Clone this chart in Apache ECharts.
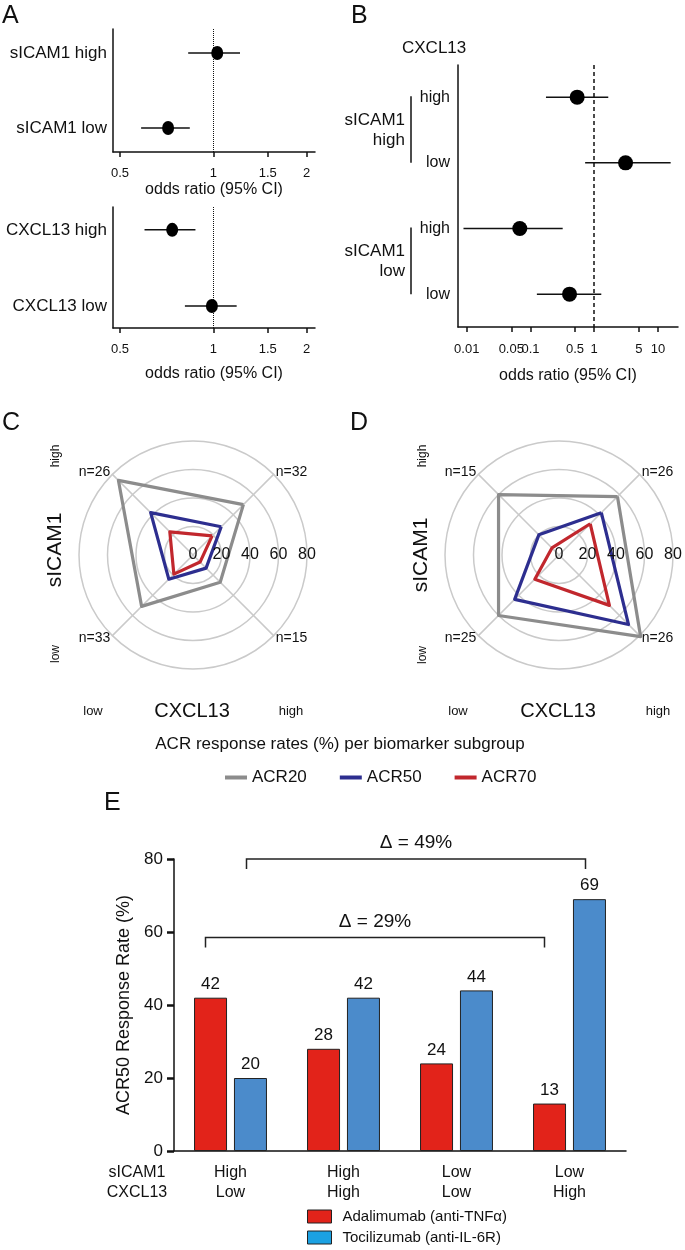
<!DOCTYPE html>
<html>
<head>
<meta charset="utf-8">
<title>ACR response by sICAM1 / CXCL13 subgroup</title>
<script src="https://cdn.jsdelivr.net/npm/echarts@6/dist/echarts.min.js"></script>
<style>
  html, body { margin: 0; padding: 0; background: #fff; }
  #main { width: 685px; height: 1250px; }
</style>
</head>
<body>
<div id="main"></div>
<script>
// panel A: odds ratios per single biomarker
const aTopRows = ['sICAM1 high', 'sICAM1 low']
const aTopOR = [1.03, 0.715]
const aTopLo = [0.83, 0.585]
const aTopHi = [1.22, 0.84]
const aBotRows = ['CXCL13 high', 'CXCL13 low']
const aBotOR = [0.737, 0.99]
const aBotLo = [0.60, 0.81]
const aBotHi = [0.876, 1.19]
const aTicks = [0.5, 1, 1.5, 2]

// panel B: odds ratios per combined subgroup
const bRows = ['high', 'low', 'high', 'low']
const bGroups = ['sICAM1\nhigh', 'sICAM1\nlow']
const bOR = [0.54, 3.1, 0.068, 0.41]
const bLo = [0.175, 0.72, 0.0089, 0.126]
const bHi = [1.66, 15.8, 0.32, 1.29]
const bTicks = [0.01, 0.05, 0.1, 0.5, 1, 5, 10]

// panels C / D: radar order is high/high, high/low, low/low, low/high
const radarRings = [0, 20, 40, 60, 80]
const acrNames = ['ACR20', 'ACR50', 'ACR70']
const cN = [32, 26, 33, 15]
const cAcr20 = [50, 74, 51, 27]
const cAcr50 = [28, 42, 24, 13]
const cAcr70 = [19, 23, 19, 7]
const dN = [26, 15, 25, 26]
const dAcr20 = [58, 60, 60, 81]
const dAcr50 = [42, 20, 44, 69]
const dAcr70 = [31, 7, 24, 50]

// panel E: ACR50 per subgroup
const sicamLevel = ['High', 'High', 'Low', 'Low']
const cxclLevel = ['Low', 'High', 'Low', 'High']
const drugNames = ['Adalimumab (anti-TNFα)', 'Tocilizumab (anti-IL-6R)']
const adalimumab = [42, 28, 24, 13]
const tocilizumab = [20, 42, 44, 69]
const yTicksE = [0, 20, 40, 60, 80]

const FONT = 'Liberation Sans, Arial, Helvetica, sans-serif'
const INK = '#111'
const acrColors = ['#8c8c8c', '#2d2e8f', '#c1272d']
const drugColors = ['#e2231a', '#4b8bcb']
const drugLegendColors = ['#e2231a', '#1ba1e2']

const chart = echarts.init(document.getElementById('main'))

const fmtNum = v => String(parseFloat(Number(v).toPrecision(3)))

function orAxis (gridIndex, min, max, ticks, nameGap, margin) {
  return {
    gridIndex: gridIndex,
    type: 'log',
    logBase: 10,
    min: min,
    max: max,
    name: 'odds ratio (95% CI)',
    nameLocation: 'middle',
    nameGap: nameGap,
    nameTextStyle: { fontSize: 16, color: INK, fontFamily: FONT },
    axisLine: { onZero: false, lineStyle: { color: INK, width: 1.5 } },
    axisTick: { show: true, length: 5, lineStyle: { color: INK, width: 1.5 }, customValues: ticks },
    axisLabel: { fontSize: 13, color: INK, fontFamily: FONT, margin: margin, customValues: ticks, formatter: fmtNum },
    minorTick: { show: false },
    splitLine: { show: false }
  }
}

function rowAxis (gridIndex, rows, min, max, fontSize, margin) {
  return {
    gridIndex: gridIndex,
    type: 'value',
    inverse: true,
    min: min,
    max: max,
    axisLine: { show: true, onZero: false, lineStyle: { color: INK, width: 1.5 } },
    axisTick: { show: false },
    splitLine: { show: false },
    axisLabel: {
      fontSize: fontSize,
      color: INK,
      fontFamily: FONT,
      margin: margin,
      customValues: rows.map((r, i) => i),
      formatter: v => rows[Math.round(v)] || ''
    }
  }
}

function forestSeries (axisIndex, rows, or, lo, hi, dotSize, refLine) {
  return [
    {
      type: 'custom',
      xAxisIndex: axisIndex,
      yAxisIndex: axisIndex,
      data: rows.map((r, i) => [i, lo[i], hi[i]]),
      renderItem: function (params, api) {
        const a = api.coord([api.value(1), api.value(0)])
        const b = api.coord([api.value(2), api.value(0)])
        return {
          type: 'line',
          shape: { x1: a[0], y1: a[1], x2: b[0], y2: b[1] },
          style: { stroke: INK, lineWidth: 1.5 }
        }
      },
      silent: true
    },
    {
      type: 'scatter',
      xAxisIndex: axisIndex,
      yAxisIndex: axisIndex,
      data: rows.map((r, i) => [or[i], i]),
      symbol: 'circle',
      symbolSize: dotSize,
      itemStyle: { color: '#000', opacity: 1 },
      silent: true,
      z: 5,
      markLine: {
        silent: true,
        symbol: 'none',
        label: { show: false },
        lineStyle: refLine,
        data: [{ xAxis: 1 }]
      }
    }
  ]
}

function radarBox (center, nums) {
  return {
    center: center,
    radius: 114,
    startAngle: 45,
    shape: 'circle',
    splitNumber: radarRings.length - 1,
    indicator: nums.map(n => ({ name: 'n=' + n, min: radarRings[0], max: radarRings[radarRings.length - 1] })),
    nameGap: 3,
    axisName: { color: INK, fontSize: 14, fontFamily: FONT },
    splitLine: { lineStyle: { color: '#cacaca', width: 1.5 } },
    splitArea: { show: false },
    axisLine: { lineStyle: { color: '#cacaca', width: 1.5 } },
    axisTick: { show: false },
    axisLabel: { show: false }
  }
}

function radarSeries (radarIndex, sets) {
  return {
    type: 'radar',
    radarIndex: radarIndex,
    symbol: 'none',
    silent: true,
    z: 3,
    data: sets.map((vals, k) => ({
      name: acrNames[k],
      value: vals,
      itemStyle: { color: acrColors[k] },
      lineStyle: { color: acrColors[k], width: 3.2 }
    }))
  }
}

function ringAxis (polarIndex) {
  return {
    polarIndex: polarIndex,
    type: 'value',
    min: radarRings[0],
    max: radarRings[radarRings.length - 1],
    interval: 20,
    z: 10,
    axisLine: { show: false },
    axisTick: { show: false },
    splitLine: { show: false },
    axisLabel: { fontSize: 16, color: INK, fontFamily: FONT, margin: -8 }
  }
}

function txt (x, y, s, size, align, rotate) {
  return {
    type: 'text',
    x: x,
    y: y,
    rotation: rotate ? Math.PI / 2 : 0,
    style: {
      text: s,
      fontSize: size,
      fontFamily: FONT,
      fill: INK,
      align: align || 'center',
      verticalAlign: 'middle'
    }
  }
}

// bracket + delta label between first and last subgroup of one drug
const deltaPairs = [
  { drug: 0, from: 0, to: 3, level: 58.5 },
  { drug: 1, from: 0, to: 3, level: 80 }
]
const drugValues = [adalimumab, tocilizumab]

const option = {
  animation: false,
  textStyle: { fontFamily: FONT },
  grid: [
    { left: 113, top: 29, width: 202, height: 123 },
    { left: 113, top: 207, width: 202, height: 121 },
    { left: 458, top: 65, width: 220, height: 262 },
    { left: 174, top: 859, width: 452, height: 292 }
  ],
  xAxis: [
    orAxis(0, 0.4747, 2.13, aTicks, 30, 15),
    orAxis(1, 0.4747, 2.13, aTicks, 38, 15),
    orAxis(2, 0.0073, 20.6, bTicks, 41, 16),
    {
      gridIndex: 3,
      type: 'category',
      data: sicamLevel.map((s, i) => s + '\n' + cxclLevel[i]),
      axisLine: { lineStyle: { color: INK, width: 1.5 } },
      axisTick: { alignWithLabel: true, length: 7, lineStyle: { color: INK, width: 3 } },
      axisLabel: { fontSize: 16, color: INK, fontFamily: FONT, lineHeight: 20, margin: 12 }
    }
  ],
  yAxis: [
    rowAxis(0, aTopRows, -0.32, 1.32, 17, 6),
    rowAxis(1, aBotRows, -0.30, 1.29, 17, 6),
    rowAxis(2, bRows, -0.49, 3.5, 16, 8),
    {
      gridIndex: 3,
      type: 'value',
      min: yTicksE[0],
      max: yTicksE[yTicksE.length - 1],
      interval: 20,
      name: 'ACR50 Response Rate (%)',
      nameLocation: 'middle',
      nameGap: 41,
      nameTextStyle: { fontSize: 18, color: INK, fontFamily: FONT },
      axisLine: { show: true, lineStyle: { color: INK, width: 1.5 } },
      axisTick: { show: true, length: 7, lineStyle: { color: INK, width: 2.5 } },
      splitLine: { show: false },
      axisLabel: { fontSize: 17, color: INK, fontFamily: FONT, margin: 11 }
    }
  ],
  radar: [
    radarBox([193, 555], cN),
    radarBox([559, 555], dN)
  ],
  polar: [
    { center: [193, 555], radius: 114 },
    { center: [559, 555], radius: 114 }
  ],
  angleAxis: [
    { polarIndex: 0, type: 'value', min: 0, max: 360, startAngle: 0, show: false },
    { polarIndex: 1, type: 'value', min: 0, max: 360, startAngle: 0, show: false }
  ],
  radiusAxis: [ringAxis(0), ringAxis(1)],
  legend: [
    {
      data: acrNames,
      left: 220,
      top: 764,
      icon: 'rect',
      itemWidth: 22,
      itemHeight: 4,
      itemGap: 33,
      selectedMode: false,
      textStyle: { fontSize: 17, color: INK, fontFamily: FONT }
    },
    {
      data: drugNames.map((n, i) => ({
        name: n,
        itemStyle: { color: drugLegendColors[i], borderColor: '#222', borderWidth: 1 }
      })),
      orient: 'vertical',
      left: 307,
      top: 1209,
      height: 80,
      padding: 0,
      icon: 'rect',
      itemWidth: 24,
      itemHeight: 13,
      itemGap: 6,
      selectedMode: false,
      textStyle: { fontSize: 15, color: INK, fontFamily: FONT, padding: [0, 0, 0, 6] }
    }
  ],
  graphic: {
    elements: [
      txt(2, 16, 'A', 25, 'left'),
      txt(351, 16, 'B', 25, 'left'),
      txt(2, 423, 'C', 25, 'left'),
      txt(350, 423, 'D', 25, 'left'),
      txt(104, 803, 'E', 25, 'left'),
      txt(402, 48, 'CXCL13', 17, 'left'),
      txt(56, 456, 'high', 12, 'center', true),
      txt(55, 550, 'sICAM1', 21, 'center', true),
      txt(56, 654, 'low', 12, 'center', true),
      txt(93, 711, 'low', 13),
      txt(192, 711, 'CXCL13', 20),
      txt(291, 711, 'high', 13),
      txt(423, 456, 'high', 12, 'center', true),
      txt(421, 555, 'sICAM1', 21, 'center', true),
      txt(423, 655, 'low', 12, 'center', true),
      txt(458, 711, 'low', 13),
      txt(558, 711, 'CXCL13', 20),
      txt(658, 711, 'high', 13),
      txt(340, 744, 'ACR response rates (%) per biomarker subgroup', 17),
      txt(137, 1173, 'sICAM1', 16),
      txt(137, 1193, 'CXCL13', 16)
    ]
  },
  series: [
    ...forestSeries(0, aTopRows, aTopOR, aTopLo, aTopHi, [12, 14], { type: 'dotted', color: INK, width: 1 }),
    ...forestSeries(1, aBotRows, aBotOR, aBotLo, aBotHi, [12, 14], { type: 'dotted', color: INK, width: 1 }),
    ...forestSeries(2, bRows, bOR, bLo, bHi, 15, { type: [4, 3], color: INK, width: 1.5 }),
    {
      // group brackets of panel B
      type: 'custom',
      xAxisIndex: 2,
      yAxisIndex: 2,
      silent: true,
      data: bGroups.map((g, i) => [i * 2, i * 2 + 1]),
      renderItem: function (params, api) {
        const top = api.coord([1, api.value(0)])
        const bot = api.coord([1, api.value(1)])
        const x = params.coordSys.x - 47
        return {
          type: 'group',
          children: [
            { type: 'line', shape: { x1: x, y1: top[1] - 1, x2: x, y2: bot[1] }, style: { stroke: INK, lineWidth: 1.5 } },
            {
              type: 'text',
              x: x - 6,
              y: (top[1] + bot[1]) / 2,
              style: { text: bGroups[params.dataIndex], fontSize: 17, fontFamily: FONT, fill: INK, align: 'right', verticalAlign: 'middle', lineHeight: 20 }
            }
          ]
        }
      }
    },
    radarSeries(0, [cAcr20, cAcr50, cAcr70]),
    radarSeries(1, [dAcr20, dAcr50, dAcr70]),
    {
      type: 'scatter',
      coordinateSystem: 'polar',
      polarIndex: 0,
      data: []
    },
    {
      type: 'scatter',
      coordinateSystem: 'polar',
      polarIndex: 1,
      data: []
    },
    ...drugValues.map((vals, k) => ({
      name: drugNames[k],
      type: 'bar',
      xAxisIndex: 3,
      yAxisIndex: 3,
      data: vals,
      barWidth: 33,
      barGap: '21%',
      itemStyle: { color: drugColors[k], borderColor: '#222', borderWidth: 1 },
      label: { show: true, position: 'top', distance: 5, fontSize: 17, color: INK, fontFamily: FONT },
      silent: true
    })),
    {
      type: 'custom',
      xAxisIndex: 3,
      yAxisIndex: 3,
      silent: true,
      z: 6,
      data: deltaPairs.map(d => [d.from, d.to, d.level, d.drug]),
      renderItem: function (params, api) {
        const d = deltaPairs[params.dataIndex]
        const vals = drugValues[d.drug]
        const delta = Math.abs(vals[d.to] - vals[d.from])
        const off = d.drug === 0 ? -25 : 16
        const p1 = api.coord([api.value(0), api.value(2)])
        const p2 = api.coord([api.value(1), api.value(2)])
        const x1 = p1[0] + off
        const x2 = p2[0] + off
        const y = p1[1]
        return {
          type: 'group',
          children: [
            {
              type: 'polyline',
              shape: { points: [[x1, y + 10], [x1, y], [x2, y], [x2, y + 10]] },
              style: { stroke: '#222', lineWidth: 1.5, fill: null }
            },
            {
              type: 'text',
              x: (x1 + x2) / 2,
              y: y - 16,
              style: { text: 'Δ = ' + delta + '%', fontSize: 19, fontFamily: FONT, fill: INK, align: 'center', verticalAlign: 'middle' }
            }
          ]
        }
      }
    }
  ]
}

chart.setOption(option)
window.addEventListener('resize', function () {
  chart.resize()
})
</script>
</body>
</html>
